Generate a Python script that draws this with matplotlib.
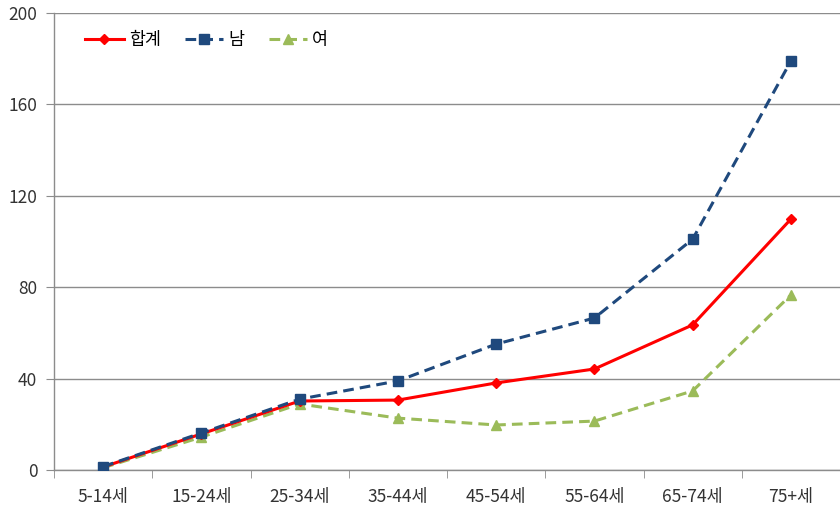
import matplotlib
matplotlib.use("Agg")
import matplotlib.pyplot as plt
import numpy as np

plt.rcParams['font.family'] = ['Noto Sans CJK KR', 'DejaVu Sans']

categories = ["5-14세", "15-24세", "25-34세", "35-44세", "45-54세", "55-64세", "65-74세", "75+세"]
total = [1.3, 15.8, 30.2, 30.6, 38.1, 44.2, 63.5, 109.8]
male = [1.5, 16.2, 31.0, 39.0, 55.1, 66.5, 101.0, 179.0]
female = [1.0, 14.4, 28.9, 22.7, 19.7, 21.4, 34.6, 76.6]
y_ticks = [0, 40, 80, 120, 160, 200]

fig = plt.figure(figsize=(8.4, 5.14), dpi=100)
ax = fig.add_axes([0.0643, 0.0856, 0.9357, 0.8891])

x = np.arange(len(categories))
ax.plot(x, total, color="#FF0000", lw=2.2, marker="D", ms=5, label="합계", zorder=3)
ax.plot(x, male, color="#1F497D", lw=2.2, ls=(0, (3.5, 2)), marker="s", ms=7, label="남", zorder=4)
ax.plot(x, female, color="#9BBB59", lw=2.2, ls=(0, (3.5, 2)), marker="^", ms=7, label="여", zorder=2)

ax.set_xlim(-0.5, len(categories) - 0.5)
ax.set_ylim(0, 200)
ax.set_yticks(y_ticks)
ax.yaxis.grid(True, color="#8C8C8C", lw=1)
ax.set_axisbelow(True)

ax.set_xticks(x)
ax.set_xticklabels(categories)
ax.set_xticks(np.arange(-0.5, len(categories)), minor=True)
ax.tick_params(axis="x", which="major", length=0, pad=13, labelsize=12.5, labelcolor="#333333")
ax.tick_params(axis="x", which="minor", length=6, color="#8C8C8C", direction="out")
ax.tick_params(axis="y", length=6, color="#8C8C8C", labelsize=12.5, labelcolor="#333333", pad=6)

for side in ("top", "right"):
    ax.spines[side].set_visible(False)
for side in ("left", "bottom"):
    ax.spines[side].set_color("#8C8C8C")
    ax.spines[side].set_linewidth(1)

ax.legend(loc="upper left", bbox_to_anchor=(0.02, 0.995), ncol=3, frameon=False,
          fontsize=12.5, handlelength=2.2, columnspacing=1.4, handletextpad=0.3)

fig.savefig("out.png", dpi=100)
